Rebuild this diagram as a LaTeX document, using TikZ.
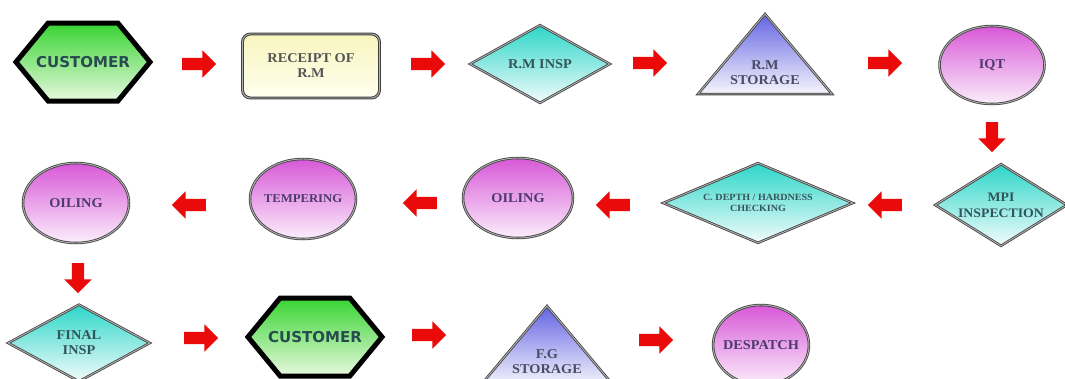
\documentclass[tikz,border=0pt]{standalone}
\usepackage{fontspec}
\setmainfont{Liberation Serif}[FakeStretch=1.06]
\newfontfamily\hexfont{DejaVu Sans}
\usetikzlibrary{positioning,shapes.geometric,shapes.arrows,shapes.symbols}

\definecolor{hextop}{RGB}{55,212,50}
\definecolor{hexbot}{RGB}{232,249,222}
\definecolor{hextext}{RGB}{40,75,80}
\definecolor{rectop}{RGB}{248,245,190}
\definecolor{recbot}{RGB}{255,255,240}
\definecolor{rectext}{RGB}{85,85,85}
\definecolor{diatop}{RGB}{45,214,200}
\definecolor{diabot}{RGB}{242,252,252}
\definecolor{diatext}{RGB}{50,85,92}
\definecolor{tritop}{RGB}{100,100,228}
\definecolor{tribot}{RGB}{246,246,252}
\definecolor{tritext}{RGB}{72,76,100}
\definecolor{ovaltop}{RGB}{215,88,215}
\definecolor{ovalbot}{RGB}{252,238,252}
\definecolor{ovaltext}{RGB}{78,58,108}
\definecolor{arrowred}{RGB}{235,10,10}

\begin{document}
\begin{tikzpicture}[
    x=1pt, y=-1pt,
    align=center,
    font=\fontsize{13.5}{15}\selectfont\bfseries,
    rim/.style={draw=black!75, line width=0.8pt, double=black!30, double distance=0.9pt},
    cust/.style={signal, signal to=east and west, signal pointer angle=101,
      minimum height=78pt, inner xsep=-12pt, inner ysep=0pt,
      line width=5pt, draw=black, top color=hextop, bottom color=hexbot,
      text=hextext, font=\hexfont\fontsize{15}{17}\selectfont\bfseries},
    recbox/.style={rectangle, rounded corners=8pt, rim, line width=1pt, minimum width=137pt,
      minimum height=64pt, top color=rectop, bottom color=recbot, text=rectext},
    insp/.style={diamond, rim, aspect=1.8, inner sep=0pt,
      top color=diatop, bottom color=diabot, text=diatext},
    store/.style={isosceles triangle, shape border rotate=90,
      isosceles triangle stretches, minimum width=134pt, minimum height=80pt,
      inner sep=0pt, rim, top color=tritop, bottom color=tribot},
    storetext/.style={text=tritext},
    oval/.style={ellipse, rim, minimum width=105pt, minimum height=78pt,
      inner sep=-4pt, top color=ovaltop, bottom color=ovalbot, text=ovaltext},
    flow/.style={single arrow, fill=arrowred, draw=none, minimum height=34pt,
      inner sep=6pt, single arrow head extend=7.5pt},
    flowleft/.style={flow, shape border rotate=180},
    flowdown/.style={flow, shape border rotate=270, minimum height=30pt},
  ]

  \useasboundingbox (0,0) rectangle (1065,378);

  % first row
  \node (cust1)   [cust]                       at (83,62)   {CUSTOMER};
  \node (rec)     [recbox]                     at (311,66)  {RECEIPT OF\\R.M};
  \node (rminsp)  [insp, minimum width=140pt, minimum height=78pt] at (540,64) {R.M INSP};
  \node (rmstor)  [store, anchor=apex]         at (765,13)  {};
  \node (rmlabel) [storetext] at ([yshift=-60pt]rmstor.apex) {R.M\\STORAGE};
  \node (iqt)     [oval]                       at (992,65)  {IQT};

  % second row
  \node (mpi)     [insp, aspect=1.6, minimum width=132pt, minimum height=82pt,
                   font=\fontsize{13}{16}\selectfont\bfseries] at (1001,205) {MPI\\INSPECTION};
  \node (cdepth)  [insp, aspect=2.5, minimum width=190pt, minimum height=80pt,
                   font=\fontsize{9.5}{10.5}\selectfont\bfseries] at (758,203) {C. DEPTH / HARDNESS\\CHECKING};
  \node (oil1)    [oval, minimum width=110pt, minimum height=80pt] at (518,198) {OILING};
  \node (temper)  [oval, minimum width=106pt, minimum height=80pt,
                   font=\fontsize{12}{14}\selectfont\bfseries] at (303,199) {TEMPERING};
  \node (oil2)    [oval, minimum width=106pt, minimum height=80pt] at (76,203) {OILING};

  % third row
  \node (finsp)   [insp, minimum width=142pt, minimum height=77pt] at (79,343) {FINAL\\INSP};
  \node (cust2)   [cust]                       at (315,337) {CUSTOMER};
  \node (fgstor)  [store, anchor=apex]         at (547,305) {};
  \node (fglabel) [storetext] at ([yshift=-57pt]fgstor.apex) {F.G\\STORAGE};
  \node (desp)    [oval, minimum width=95pt, minimum height=80pt] at (761,345) {DESPATCH};

  % flow
  \node (f1)  [flow]      at (196,64)  {};
  \node (f2)  [flow]      at (425,64)  {};
  \node (f3)  [flow]      at (647,63)  {};
  \node (f4)  [flow]      at (882,63)  {};
  \node (f5)  [flowdown]  at (992,134) {};
  \node (f6)  [flowleft]  at (888,205) {};
  \node (f7)  [flowleft]  at (616,205) {};
  \node (f8)  [flowleft]  at (423,203) {};
  \node (f9)  [flowleft]  at (192,205) {};
  \node (f10) [flowdown]  at (78,275)  {};
  \node (f11) [flow]      at (198,338) {};
  \node (f12) [flow]      at (426,335) {};
  \node (f13) [flow]      at (653,340) {};

\end{tikzpicture}
\end{document}
